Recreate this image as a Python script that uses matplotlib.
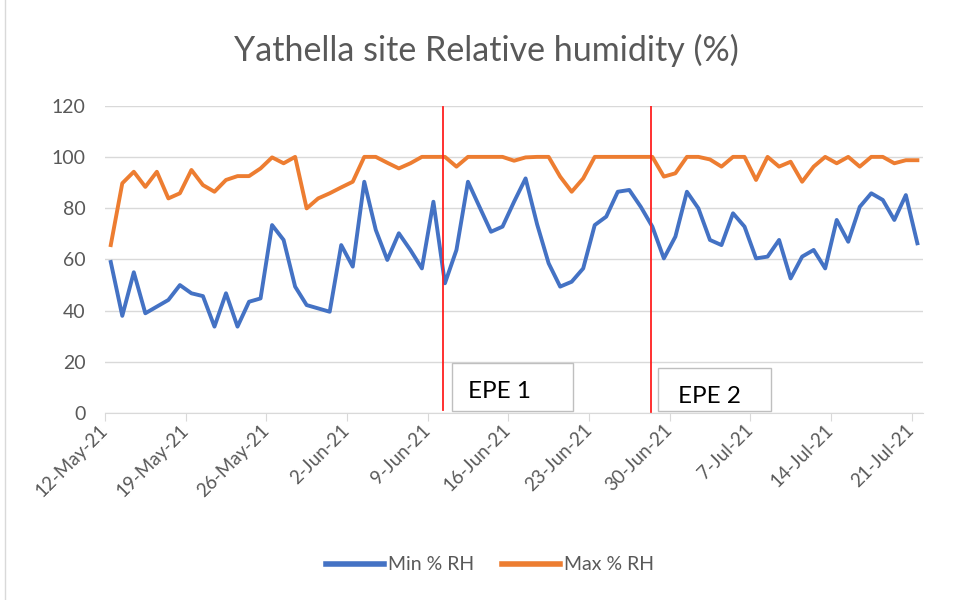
import pandas as pd
import matplotlib
matplotlib.use("Agg")
import matplotlib.pyplot as plt
import matplotlib.dates as mdates
from matplotlib.patches import Rectangle
from matplotlib.lines import Line2D

plt.rcParams["font.family"] = ["Lato", "DejaVu Sans"]

# Daily readings, 12-May-21 .. 21-Jul-21
dates = pd.date_range("2021-05-12", "2021-07-21", freq="D")
min_rh = [59, 38, 55, 39, 41.6, 44.2, 50, 46.8, 45.7, 33.8,
          46.8, 33.8, 43.5, 44.8, 73.4, 67.6, 49.4, 42.2, 40.9, 39.6,
          65.6, 57.2, 90.3, 71.5, 59.8, 70.2, 63.7, 56.5, 82.5, 50.7,
          63.7, 90.3, 80.5, 70.8, 72.8, 82.5, 91.6, 73.7, 58.5, 49.4,
          51.3, 56.5, 73.4, 76.7, 86.4, 87.1, 80.5, 72.8, 60.4, 68.9,
          86.4, 79.9, 67.6, 65.6, 78, 72.8, 60.4, 61.1, 67.6, 52.6,
          61.1, 63.7, 56.5, 75.4, 66.9, 80.5, 85.8, 83.2, 75.4, 85.1,
          66.3]
max_rh = [65.6, 89.7, 94.2, 88.3, 94.2, 83.8, 85.8, 94.9, 89, 86.4,
          91, 92.5, 92.5, 95.5, 99.8, 97.5, 100, 79.9, 83.8, 85.8,
          88.1, 90.3, 100, 100, 97.7, 95.5, 97.5, 100, 100, 100,
          96.2, 100, 100, 100, 100, 98.5, 99.8, 100, 100, 92.3,
          86.4, 91.6, 100, 100, 100, 100, 100, 100, 92.3, 93.6,
          100, 100, 99, 96.2, 100, 100, 91, 100, 96.2, 98.1,
          90.3, 96.2, 100, 97.5, 100, 96.2, 100, 100, 97.5, 98.7,
          98.7]
tick_dates = pd.date_range("2021-05-12", "2021-07-21", freq="7D")
y_ticks = [0, 20, 40, 60, 80, 100, 120]

# event markers and labels
epe_lines = [pd.Timestamp("2021-06-10 07:00"), pd.Timestamp("2021-06-28 10:00")]
epe_labels = ["EPE 1", "EPE 2"]

grey = "#595959"
fig = plt.figure(figsize=(9.58, 6), dpi=100)
ax = fig.add_axes([0.1096, 0.3112, 0.854, 0.5128])

x = dates + pd.Timedelta(hours=12)
ax.plot(x, min_rh, color="#4472C4", lw=2.8, solid_joinstyle="round")
ax.plot(x, max_rh, color="#ED7D31", lw=2.8, solid_joinstyle="round")

ax.set_xlim(dates[0], dates[-1] + pd.Timedelta(days=1))
ax.set_ylim(0, 120)
ax.set_yticks(y_ticks)
ax.set_xticks(tick_dates)
ax.xaxis.set_major_formatter(mdates.DateFormatter("%-d-%b-%y"))
ax.grid(axis="y", color="#D9D9D9", lw=1)
ax.set_axisbelow(True)
for s in ["top", "right", "left"]:
    ax.spines[s].set_visible(False)
ax.spines["bottom"].set_color("#D9D9D9")
ax.tick_params(axis="y", length=0, labelsize=14, labelcolor=grey, pad=14)
ax.tick_params(axis="x", length=6, color="#D9D9D9", labelsize=13.5, labelcolor=grey, pad=4)
for lbl in ax.get_xticklabels():
    lbl.set_rotation(45)
    lbl.set_ha("right")
    lbl.set_va("center")
    lbl.set_rotation_mode("anchor")

# red event lines
ax.plot([epe_lines[0]] * 2, [1.3, 119.4], color="#FF2020", lw=1.3)
ax.plot([epe_lines[1]] * 2, [0.5, 120.2], color="#FF2020", lw=1.3)

# text boxes
d0 = dates[0]
boxes = [(30.1, 40.6, 1.0, 19.7, 31.5, 8.4), (48.0, 57.8, 1.0, 17.5, 49.7, 6.6)]
for (x0, x1, y0, y1, tx, ty), lab in zip(boxes, epe_labels):
    ax.add_patch(Rectangle((mdates.date2num(d0) + x0, y0), x1 - x0, y1 - y0,
                           fill=True, facecolor="white", edgecolor="#BFBFBF", lw=1,
                           clip_on=False, zorder=3))
    ax.text(mdates.date2num(d0) + tx, ty, lab, fontsize=17.5, color="black",
            ha="left", va="center", zorder=4)

fig.text(0.508, 1 - 50 / 600, "Yathella site Relative humidity (%)",
         ha="center", va="center", fontsize=24.5, color=grey)

handles = [Line2D([], [], color="#4472C4", lw=4), Line2D([], [], color="#ED7D31", lw=4)]
fig.legend(handles, ["Min % RH", "Max % RH"], loc="center",
           bbox_to_anchor=(490 / 958, 1 - 565 / 600), ncol=2, frameon=False,
           fontsize=14, labelcolor=grey, handlelength=3.0, handletextpad=0.2,
           columnspacing=1.4)

# chart border on the left
fig.add_artist(Line2D([5 / 958, 5 / 958], [0, 1], color="#D9D9D9", lw=1))

fig.savefig("out.png", dpi=100)
